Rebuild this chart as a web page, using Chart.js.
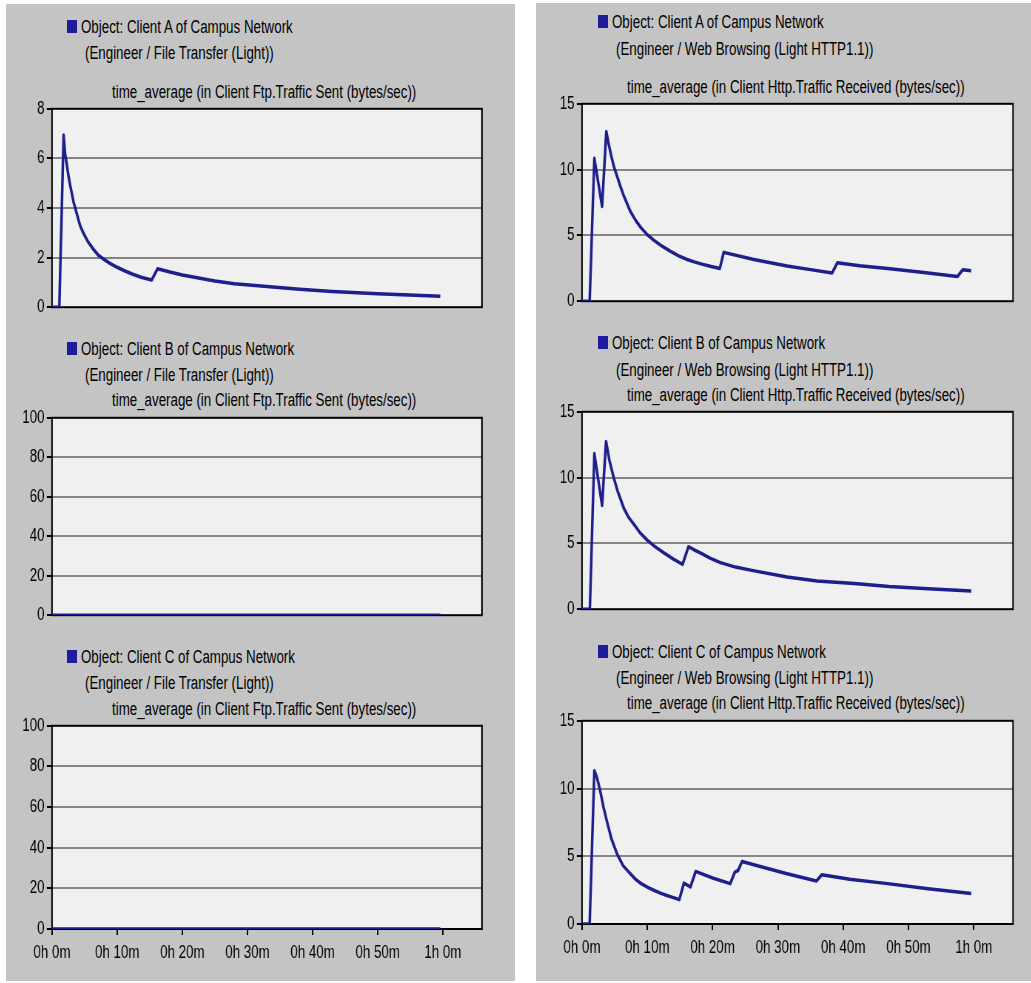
<!DOCTYPE html>
<html lang="en">
<head>
  <meta charset="UTF-8">
  <title>Campus Network - Client Traffic</title>
  <script src="https://cdn.jsdelivr.net/npm/chart.js"></script>
  <style>
    html, body { margin: 0; padding: 0; background: #fff; overflow: hidden; }
    #stage { position: relative; width: 1031px; height: 983px; overflow: hidden; }
    .panel { position: absolute; background: #c4c4c4; }
    .txt {
      position: absolute;
      font-family: "Liberation Sans", Arial, sans-serif;
      font-size: 18px;
      line-height: 20px;
      white-space: nowrap;
      color: #000;
      transform-origin: left center;
    }
    .swatch { position: absolute; width: 10px; height: 13px; background: #1c1c9c; }
    .chartBox { position: absolute; transform-origin: left top; }
  </style>
</head>
<body>
  <div id="stage">
    <div class="panel" style="left:6px;top:4px;width:509px;height:977px"></div>
    <div class="panel" style="left:536px;top:3px;width:495px;height:978px"></div>
  </div>

  <script>
    // horizontal squeeze of the original screenshot
    const S = 0.74;

    const xTickLabels = ['0h 0m', '0h 10m', '0h 20m', '0h 30m', '0h 40m', '0h 50m', '1h 0m'];
    const ftpTicksA = [0, 2, 4, 6, 8];
    const ftpTicksBC = [0, 20, 40, 60, 80, 100];
    const httpTicks = [0, 5, 10, 15];

    // minutes / bytes per sec
    const ftpATime  = [0, 1.12, 1.78, 2.0, 2.3, 2.55, 2.8, 3.3, 3.83, 4.3, 4.85, 5.5, 6.4, 7.1, 7.9, 8.9, 10.0, 11.2, 12.5, 13.8, 15.3, 16.2, 18.1, 20, 22.7, 25, 28, 33, 38, 43, 50, 59.6];
    const ftpAValue = [0, 0, 6.94, 6.2, 5.7, 5.25, 4.9, 4.25, 3.74, 3.3, 2.97, 2.65, 2.32, 2.1, 1.94, 1.77, 1.61, 1.46, 1.32, 1.2, 1.10, 1.55, 1.42, 1.3, 1.17, 1.06, 0.95, 0.83, 0.72, 0.63, 0.54, 0.44];
    const ftpBTime  = [0, 59.6];
    const ftpBValue = [0, 0];
    const ftpCTime  = [0, 59.6];
    const ftpCValue = [0, 0];

    const httpATime  = [0, 1.17, 1.89, 3.07, 3.72, 4.1, 4.5, 4.9, 5.37, 5.9, 6.4, 7.4, 8.2, 9, 10, 11, 12.2, 13.5, 14.8, 16.1, 17.3, 18.5, 19.8, 21.1, 21.7, 26.3, 31.4, 35, 38.3, 39.1, 42.5, 46.8, 52, 57.5, 58.3, 59.6];
    const httpAValue = [0, 0, 10.86, 7.2, 12.9, 11.9, 11.0, 10.2, 9.5, 8.7, 8.0, 6.83, 6.15, 5.6, 5.05, 4.63, 4.2, 3.8, 3.45, 3.17, 2.97, 2.8, 2.63, 2.49, 3.71, 3.17, 2.68, 2.4, 2.15, 2.93, 2.7, 2.49, 2.2, 1.88, 2.39, 2.32];
    const httpBTime  = [0, 1.2, 1.89, 3.07, 3.68, 4.2, 4.85, 5.5, 6.4, 7.1, 7.94, 8.9, 10, 11.2, 12.6, 14, 15.4, 16.3, 17.2, 18.2, 19.6, 21.2, 23.5, 26, 31.4, 36, 41.7, 47, 53, 59.6];
    const httpBValue = [0, 0, 11.83, 7.88, 12.75, 11.3, 10.0, 8.9, 7.68, 7.0, 6.46, 5.8, 5.24, 4.75, 4.26, 3.8, 3.41, 4.75, 4.5, 4.26, 3.88, 3.54, 3.2, 2.95, 2.44, 2.15, 1.95, 1.72, 1.55, 1.39];
    const httpCTime  = [0, 1.17, 1.89, 2.3, 2.8, 3.3, 3.8, 4.5, 5.37, 6.3, 7.4, 8.2, 9, 10, 11, 12, 13, 14, 14.9, 15.6, 16.6, 17.4, 20, 22.7, 23.4, 23.9, 24.5, 28, 31.4, 35.9, 36.7, 41, 46.8, 53, 59.6];
    const httpCValue = [0, 0, 11.32, 10.8, 9.8, 8.6, 7.6, 6.3, 5.17, 4.3, 3.71, 3.3, 3.0, 2.72, 2.49, 2.28, 2.1, 1.95, 1.8, 3.02, 2.73, 3.88, 3.4, 2.98, 3.83, 3.95, 4.61, 4.15, 3.71, 3.17, 3.63, 3.3, 2.98, 2.6, 2.25];

    const ftpTitle = 'time_average (in Client Ftp.Traffic Sent (bytes/sec))';
    const httpTitle = 'time_average (in Client Http.Traffic Received (bytes/sec))';
    const ftpApp = '(Engineer / File Transfer (Light))';
    const httpApp = '(Engineer / Web Browsing (Light HTTP1.1))';

    const charts = [
      { obj: 'Object: Client A of Campus Network', app: ftpApp, title: ftpTitle, time: ftpATime, value: ftpAValue, ticks: ftpTicksA,
        plotL: 52, plotT: 107, plotW: 430, plotH: 206, xLabels: false, txtX: 81, titleX: 112, ys: [27, 53, 92] },
      { obj: 'Object: Client B of Campus Network', app: ftpApp, title: ftpTitle, time: ftpBTime, value: ftpBValue, ticks: ftpTicksBC,
        plotL: 52, plotT: 416, plotW: 430, plotH: 205, xLabels: false, txtX: 81, titleX: 112, ys: [349, 375, 400] },
      { obj: 'Object: Client C of Campus Network', app: ftpApp, title: ftpTitle, time: ftpCTime, value: ftpCValue, ticks: ftpTicksBC,
        plotL: 52, plotT: 724, plotW: 430, plotH: 205, xLabels: true, txtX: 81, titleX: 112, ys: [657, 683, 709] },
      { obj: 'Object: Client A of Campus Network', app: httpApp, title: httpTitle, time: httpATime, value: httpAValue, ticks: httpTicks,
        plotL: 582, plotT: 102, plotW: 431, plotH: 205, xLabels: false, txtX: 612, titleX: 627, ys: [22, 49, 87] },
      { obj: 'Object: Client B of Campus Network', app: httpApp, title: httpTitle, time: httpBTime, value: httpBValue, ticks: httpTicks,
        plotL: 582, plotT: 410, plotW: 431, plotH: 205, xLabels: false, txtX: 612, titleX: 627, ys: [343, 370, 395] },
      { obj: 'Object: Client C of Campus Network', app: httpApp, title: httpTitle, time: httpCTime, value: httpCValue, ticks: httpTicks,
        plotL: 582, plotT: 719, plotW: 431, plotH: 205, xLabels: true, txtX: 612, titleX: 627, ys: [652, 678, 703] }
    ];

    const stage = document.getElementById('stage');

    function addText(str, x, cy) {
      const d = document.createElement('div');
      d.className = 'txt';
      d.textContent = str;
      d.style.left = x + 'px';
      d.style.top = (cy - 10) + 'px';
      d.style.transform = 'scaleX(' + S + ')';
      stage.appendChild(d);
    }

    // plot background + frame
    const plotFrame = {
      id: 'plotFrame',
      beforeDraw(chart) {
        const { ctx, chartArea: a } = chart;
        ctx.save();
        ctx.fillStyle = '#f0f0f0';
        ctx.fillRect(a.left, a.top, a.width, a.height);
        ctx.restore();
      },
      beforeDatasetsDraw(chart) {
        const { ctx, chartArea: a } = chart;
        ctx.save();
        ctx.strokeStyle = '#000';
        ctx.lineWidth = 2;
        ctx.strokeRect(a.left, a.top, a.width, a.height);
        ctx.restore();
      }
    };

    const tickFont = { family: '"Liberation Sans", Arial, sans-serif', size: 18 };
    const axisLeft = 48;   // room for y labels (real px)
    const padTop = 12;

    charts.forEach(c => {
      // legend and titles
      const sw = document.createElement('div');
      sw.className = 'swatch';
      sw.style.left = (c.txtX - 14) + 'px';
      sw.style.top = (c.ys[0] - 7) + 'px';
      stage.appendChild(sw);
      addText(c.obj, c.txtX, c.ys[0]);
      addText(c.app, c.txtX + 4, c.ys[1]);
      addText(c.title, c.titleX, c.ys[2]);

      const bottomSpace = c.xLabels ? 36 : 8;
      const box = document.createElement('div');
      box.className = 'chartBox';
      box.style.left = (c.plotL - axisLeft) + 'px';
      box.style.top = (c.plotT - padTop) + 'px';
      box.style.width = ((axisLeft + c.plotW + 6) / S) + 'px';
      box.style.height = (c.plotH + padTop + bottomSpace) + 'px';
      box.style.transform = 'scaleX(' + S + ')';
      const cv = document.createElement('canvas');
      box.appendChild(cv);
      stage.appendChild(box);

      const yTicks = c.ticks;
      new Chart(cv, {
        type: 'line',
        data: {
          datasets: [{
            data: c.time.map((t, i) => ({ x: t, y: c.value[i] })),
            borderColor: '#1e1e8c',
            borderWidth: 3.5,
            borderJoinStyle: 'round',
            pointRadius: 0,
            tension: 0,
            fill: false
          }]
        },
        options: {
          responsive: true,
          maintainAspectRatio: false,
          animation: false,
          events: [],
          layout: { padding: { top: padTop, right: 6 / S, left: 0, bottom: 0 } },
          plugins: { legend: { display: false }, title: { display: false }, tooltip: { enabled: false } },
          scales: {
            x: {
              type: 'linear',
              min: 0,
              max: 66,
              border: { display: false },
              grid: { display: c.xLabels, drawOnChartArea: false, drawTicks: true, tickLength: 6, tickColor: '#000', lineWidth: 2 },
              ticks: {
                display: c.xLabels,
                stepSize: 10,
                includeBounds: false,
                autoSkip: false,
                maxRotation: 0,
                padding: 7,
                color: '#000',
                font: tickFont,
                callback: v => xTickLabels[Math.round(v / 10)]
              },
              afterFit: s => { s.height = bottomSpace; }
            },
            y: {
              min: yTicks[0],
              max: yTicks[yTicks.length - 1],
              border: { display: false },
              grid: {
                color: ctx => (ctx.tick && (ctx.tick.value === yTicks[0] || ctx.tick.value === yTicks[yTicks.length - 1])) ? 'rgba(0,0,0,0)' : '#858585',
                lineWidth: 2,
                tickColor: '#000',
                tickLength: 7,
                drawTicks: true
              },
              ticks: { color: '#000', font: tickFont, padding: 3 },
              afterBuildTicks: s => { s.ticks = yTicks.map(v => ({ value: v })); },
              afterFit: s => { s.width = axisLeft / S; }
            }
          }
        },
        plugins: [plotFrame]
      });
    });
  </script>
</body>
</html>
